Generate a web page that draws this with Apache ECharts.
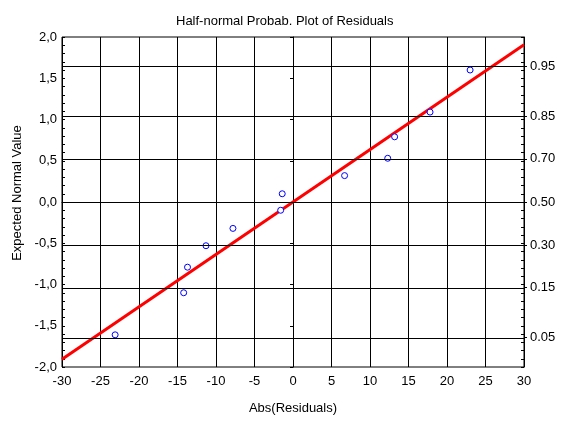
<!DOCTYPE html>
<html>
<head>
<meta charset="utf-8">
<script src="https://cdn.jsdelivr.net/npm/echarts@6/dist/echarts.min.js"></script>
<style>
html,body{margin:0;padding:0;background:#fff;}
#chart{width:565px;height:424px;}
</style>
</head>
<body>
<div id="chart"></div>
<script>
// Data
var residX = [-23.1, -14.2, -13.7, -11.3, -7.8, -1.6, -1.4, 6.7, 12.3, 13.2, 17.8, 23.0];
var normalY = [-1.61, -1.10, -0.79, -0.53, -0.32, -0.10, 0.10, 0.32, 0.53, 0.79, 1.09, 1.60];
var fitX = [-30, 30];
var fitY = [-1.906, 1.906];
var probLabels = ['0.05', '0.15', '0.30', '0.50', '0.70', '0.85', '0.95'];
var probQuantiles = [-1.645, -1.036, -0.524, 0, 0.524, 1.036, 1.645];
var xTicks = [-30, 30, 5];
var yTicks = [-2, 2, 0.5];

var points = residX.map(function (x, i) { return [x, normalY[i]]; });
var fitLine = fitX.map(function (x, i) { return [x, fitY[i]]; });

var font = 'Liberation Sans, Arial, sans-serif';
var fs = 13;
var chart = echarts.init(document.getElementById('chart'), null, {renderer: 'canvas'});

function yAxisBase(extra) {
  var a = {
    type: 'value', min: yTicks[0], max: yTicks[1],
    axisLine: {show: false}, splitLine: {show: false},
    axisLabel: {show: false}, axisTick: {show: false}
  };
  for (var k in extra) a[k] = extra[k];
  return a;
}

chart.setOption({
  animation: false,
  backgroundColor: '#fff',
  title: {
    text: 'Half-normal Probab. Plot of Residuals',
    left: 171, top: 10,
    textStyle: {fontFamily: font, fontSize: fs, fontWeight: 'normal', color: '#000'}
  },
  grid: {
    left: 62, right: 41, top: 37, bottom: 57,
    show: true, borderColor: '#000', borderWidth: 1, containLabel: false
  },
  xAxis: {
    type: 'value', min: xTicks[0], max: xTicks[1], interval: xTicks[2],
    name: 'Abs(Residuals)', nameLocation: 'middle', nameGap: 35,
    nameTextStyle: {fontFamily: font, fontSize: fs, color: '#000'},
    axisLine: {show: true, lineStyle: {color: '#000', width: 1}},
    axisTick: {show: false},
    axisLabel: {fontFamily: font, fontSize: fs, color: '#000', margin: 8},
    splitLine: {show: true, lineStyle: {color: '#000', width: 1}}
  },
  yAxis: [
    yAxisBase({
      position: 'left', interval: yTicks[2],
      name: 'Expected Normal Value', nameLocation: 'middle', nameGap: 37,
      nameTextStyle: {fontFamily: font, fontSize: fs, color: '#000', padding: [0, 0, 0, 18]},
      axisLine: {show: true, lineStyle: {color: '#000', width: 1}},
      axisTick: {show: true, length: 3, lineStyle: {color: '#000'}},
      axisLabel: {
        show: true, fontFamily: font, fontSize: fs, color: '#000', margin: 5,
        formatter: function (v) { return v.toFixed(1).replace('.', ','); }
      }
    }),
    yAxisBase({
      position: 'left', interval: 0.1,
      axisTick: {show: true, inside: true, length: 3, lineStyle: {color: '#000'}}
    }),
    yAxisBase({
      position: 'right',
      axisLine: {show: true, lineStyle: {color: '#000', width: 1}},
      axisTick: {show: true, length: 3, customValues: probQuantiles, lineStyle: {color: '#000'}},
      axisLabel: {
        show: true, fontFamily: font, fontSize: fs, color: '#000', margin: 6,
        customValues: probQuantiles,
        formatter: function (v) {
          var best = 0;
          for (var i = 0; i < probQuantiles.length; i++) {
            if (Math.abs(probQuantiles[i] - v) < Math.abs(probQuantiles[best] - v)) best = i;
          }
          return probLabels[best];
        }
      }
    }),
    yAxisBase({
      position: 'right', interval: 0.1,
      axisTick: {show: true, inside: true, length: 3, lineStyle: {color: '#000'}}
    })
  ],
  series: [
    {
      type: 'line', data: [], z: 1, silent: true,
      markLine: {
        silent: true, symbol: 'none', animation: false,
        label: {show: false},
        lineStyle: {color: '#000', width: 1, type: 'solid'},
        data: probQuantiles.map(function (q) { return {yAxis: q}; })
      }
    },
    {
      type: 'line', data: fitLine, z: 3, symbol: 'none', silent: true,
      lineStyle: {color: '#ff0000', width: 3}
    },
    {
      type: 'scatter', data: points, z: 4, symbol: 'circle', symbolSize: 6,
      itemStyle: {color: '#ffffff', opacity: 1, borderColor: '#0000ff', borderWidth: 1}
    }
  ]
});
</script>
</body>
</html>
